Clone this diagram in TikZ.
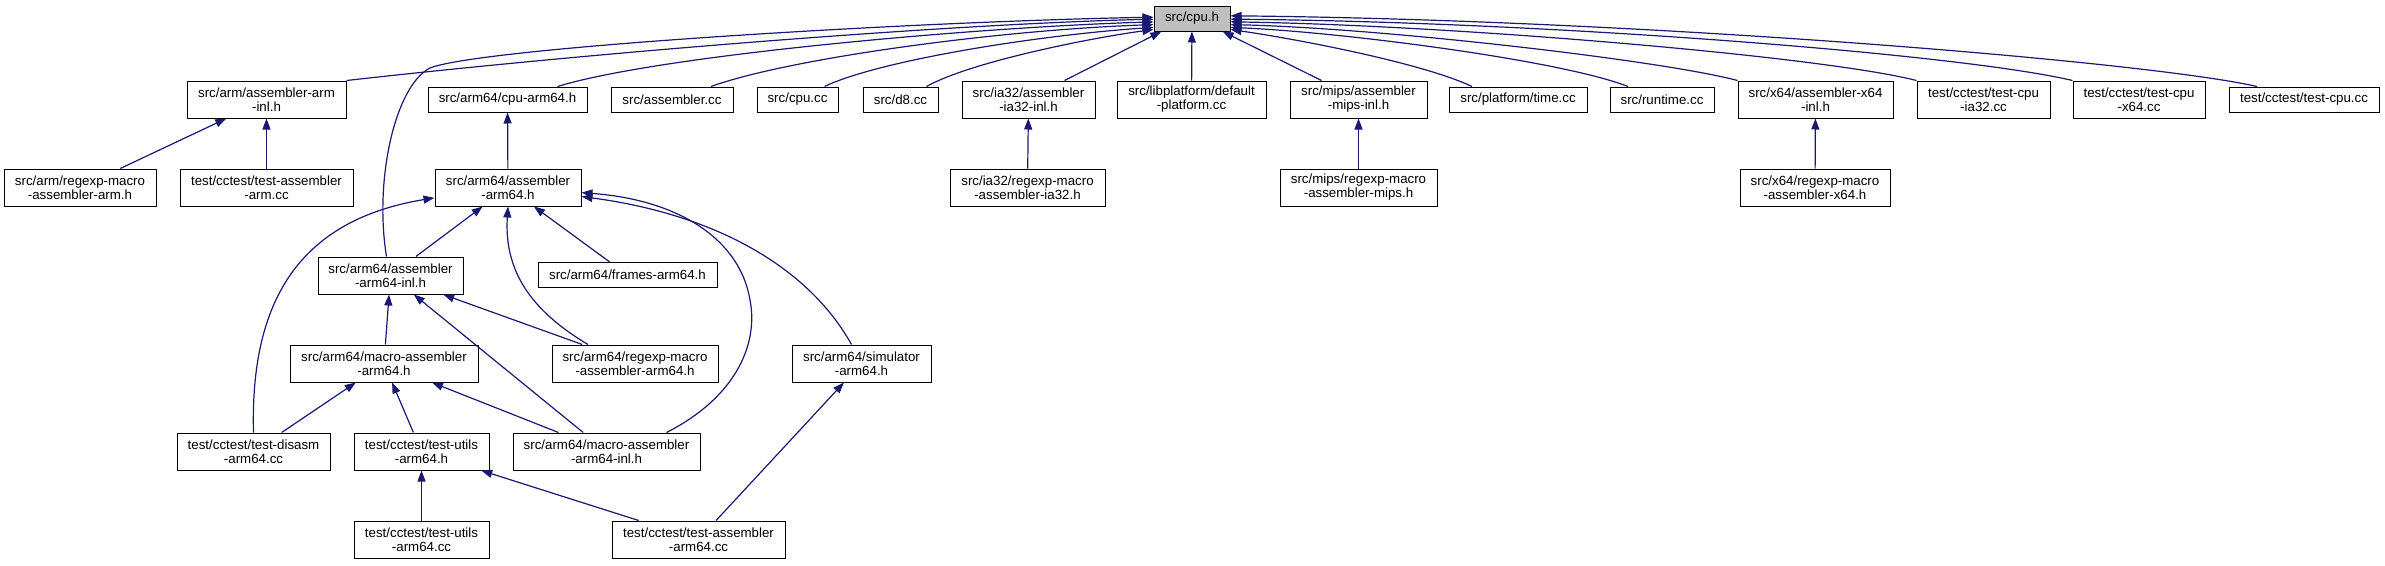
\documentclass[tikz,border=0pt]{standalone}
\usepackage{fontspec}
\setmainfont{Liberation Sans}
\usetikzlibrary{arrows.meta}
\definecolor{navy}{RGB}{25,25,112}

\begin{document}
\begin{tikzpicture}[x=1pt,y=-1pt,>={Triangle[length=11pt,width=8pt]},
  file/.style={draw=black,fill=white,line width=1pt,inner sep=0pt,align=center,
    font=\fontsize{13.3}{14}\selectfont,minimum height=25pt},
  two/.style={file,minimum height=37pt},
  dep/.style={->,draw=navy,line width=1.2pt}]
  \useasboundingbox (0,0) rectangle (2385,565);
  % the header everything includes
  \node[file,fill=black!25,minimum width=76pt] (cpu) at (1192,18.5) {src/cpu.h};
  % direct includers
  \node[two,minimum width=159pt] (arm_asm_inl) at (266.5,99.5) {src/arm/assembler-arm\\-inl.h};
  \node[file,minimum width=159pt] (cpu_arm64) at (507.5,99.5) {src/arm64/cpu-arm64.h};
  \node[file,minimum width=122pt] (asm_cc) at (672,99.5) {src/assembler.cc};
  \node[file,minimum width=81pt] (cpu_cc) at (797.5,99.5) {src/cpu.cc};
  \node[file,minimum width=75pt] (d8_cc) at (900.5,99.5) {src/d8.cc};
  \node[two,minimum width=133pt] (ia32_inl) at (1028.5,99.5) {src/ia32/assembler\\-ia32-inl.h};
  \node[two,minimum width=149pt] (platform_dflt) at (1191.5,99.5) {src/libplatform/default\\-platform.cc};
  \node[two,minimum width=137pt] (mips_inl) at (1358.5,99.5) {src/mips/assembler\\-mips-inl.h};
  \node[file,minimum width=138pt] (time_cc) at (1518,99.5) {src/platform/time.cc};
  \node[file,minimum width=104pt] (runtime_cc) at (1662,99.5) {src/runtime.cc};
  \node[two,minimum width=155pt] (x64_inl) at (1815.5,99.5) {src/x64/assembler-x64\\-inl.h};
  \node[two,minimum width=133pt] (cpu_ia32) at (1983.5,99.5) {test/cctest/test-cpu\\-ia32.cc};
  \node[two,minimum width=132pt] (cpu_x64) at (2139,99.5) {test/cctest/test-cpu\\-x64.cc};
  \node[file,minimum width=150pt] (cpu_test) at (2304,99.5) {test/cctest/test-cpu.cc};
  % second level
  \node[two,minimum width=152pt] (arm_regexp) at (80,187.5) {src/arm/regexp-macro\\-assembler-arm.h};
  \node[two,minimum width=173pt] (asm_arm_test) at (266.5,187.5) {test/cctest/test-assembler\\-arm.cc};
  \node[two,minimum width=146pt] (arm64_asm) at (508,187.5) {src/arm64/assembler\\-arm64.h};
  \node[two,minimum width=155pt] (ia32_regexp) at (1027.5,187.5) {src/ia32/regexp-macro\\-assembler-ia32.h};
  \node[two,minimum width=157pt] (mips_regexp) at (1358.5,187.5) {src/mips/regexp-macro\\-assembler-mips.h};
  \node[two,minimum width=150pt] (x64_regexp) at (1815,187.5) {src/x64/regexp-macro\\-assembler-x64.h};
  % arm64 part
  \node[two,minimum width=145pt] (arm64_inl) at (390.5,275.5) {src/arm64/assembler\\-arm64-inl.h};
  \node[file,minimum width=179pt] (frames) at (627.5,275) {src/arm64/frames-arm64.h};
  \node[two,minimum width=188pt] (macro_arm64) at (384,363.5) {src/arm64/macro-assembler\\-arm64.h};
  \node[two,minimum width=166pt] (regexp_arm64) at (635,363.5) {src/arm64/regexp-macro\\-assembler-arm64.h};
  \node[two,minimum width=139pt] (simulator) at (861.5,363.5) {src/arm64/simulator\\-arm64.h};
  \node[two,minimum width=153pt] (disasm_test) at (253.5,451.5) {test/cctest/test-disasm\\-arm64.cc};
  \node[two,minimum width=135pt] (utils_h) at (421.5,451.5) {test/cctest/test-utils\\-arm64.h};
  \node[two,minimum width=187pt] (macro_inl) at (606.5,451.5) {src/arm64/macro-assembler\\-arm64-inl.h};
  \node[two,minimum width=135pt] (utils_cc) at (421.5,539.5) {test/cctest/test-utils\\-arm64.cc};
  \node[two,minimum width=173pt] (asm_arm64_test) at (698.5,539.5) {test/cctest/test-assembler\\-arm64.cc};

  % edges into src/cpu.h, left side
  \draw[dep] ([xshift=-4]arm64_inl.north) .. controls (374,180) and (395,86) .. (430,68)
    .. controls (480,48) and (900,22) .. (cpu.178);
  \draw[dep] (arm_asm_inl.north east) .. controls (600,52) and (950,24) .. (cpu.181);
  \draw[dep] ([xshift=50]cpu_arm64.north) .. controls (660,55) and (980,27) .. (cpu.185);
  \draw[dep] ([xshift=39]asm_cc.north) .. controls (790,58) and (1000,30) .. (cpu.189);
  \draw[dep] ([xshift=27]cpu_cc.north) .. controls (880,60) and (1040,35) .. (cpu.193);
  \draw[dep] ([xshift=26]d8_cc.north) .. controls (970,62) and (1090,38) .. (cpu.196);
  \draw[dep] ([xshift=36]ia32_inl.north) -- (cpu.203);
  \draw[dep] (platform_dflt) -- (cpu);
  % right side
  \draw[dep] ([xshift=-37]mips_inl.north) -- (cpu.337);
  \draw[dep] ([xshift=-46]time_cc.north) .. controls (1420,62) and (1290,38) .. (cpu.-16);
  \draw[dep] ([xshift=-34]runtime_cc.north) .. controls (1560,60) and (1340,32) .. (cpu.-13);
  \draw[dep] (x64_inl.north west) .. controls (1660,60) and (1380,28) .. (cpu.-9);
  \draw[dep] (cpu_ia32.north west) .. controls (1820,56) and (1450,25) .. (cpu.-5);
  \draw[dep] (cpu_x64.north west) .. controls (1960,54) and (1550,22) .. (cpu.-1);
  \draw[dep] ([xshift=-47]cpu_test.north) .. controls (2150,62) and (1650,20) .. (cpu.4);

  % second level
  \draw[dep] (arm_regexp) -- (arm_asm_inl);
  \draw[dep] (asm_arm_test) -- (arm_asm_inl);
  \draw[dep] (arm64_asm) -- (cpu_arm64);
  \draw[dep] (ia32_regexp) -- (ia32_inl);
  \draw[dep] (mips_regexp) -- (mips_inl);
  \draw[dep] (x64_regexp) -- (x64_inl);

  % arm64 tree
  \draw[dep] (disasm_test.north) .. controls (250,300) and (300,220) .. (arm64_asm.188);
  \draw[dep] (arm64_inl) -- (arm64_asm);
  \draw[dep] ([xshift=-47]regexp_arm64.north) .. controls (530,310) and (504,270) .. (arm64_asm.south);
  \draw[dep] (frames) -- (arm64_asm);
  \draw[dep] ([xshift=60]macro_inl.north) .. controls (740,395) and (758,340) .. (750,300)
    .. controls (740,240) and (680,200) .. (arm64_asm.-4);
  \draw[dep] ([xshift=-10]simulator.north) .. controls (810,270) and (720,215) .. (arm64_asm.-7);
  \draw[dep] (macro_arm64) -- (arm64_inl);
  \draw[dep] (macro_inl) -- (arm64_inl);
  \draw[dep] (regexp_arm64) -- (arm64_inl);
  \draw[dep] (disasm_test) -- (macro_arm64);
  \draw[dep] (utils_h) -- (macro_arm64);
  \draw[dep] (macro_inl) -- (macro_arm64);
  \draw[dep] (utils_cc) -- (utils_h);
  \draw[dep] (asm_arm64_test) -- (utils_h);
  \draw[dep] (asm_arm64_test) -- (simulator);
\end{tikzpicture}
\end{document}
